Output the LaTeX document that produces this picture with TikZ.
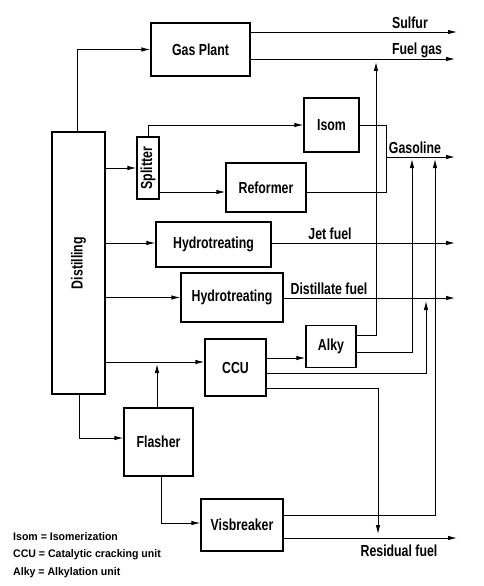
\documentclass[tikz,border=0pt]{standalone}
\usepackage{fontspec}
\setmainfont{Liberation Sans}
\newfontfamily\condf{Liberation Sans}[FakeStretch=0.77]
\newfontfamily\legf{Liberation Sans}[FakeStretch=0.96]
\usetikzlibrary{arrows.meta,calc}
\begin{document}
\begin{tikzpicture}[x=1pt,y=-1pt,
  box/.style={draw, line width=1.3pt, inner sep=0pt, font=\condf\bfseries\fontsize{16}{18}\selectfont},
  flow/.style={line width=0.9pt},
  arr/.style={flow, -{Latex[length=9pt,width=4.5pt]}},
  lab/.style={font=\condf\bfseries\fontsize{16}{18}\selectfont, inner sep=0pt},
  leg/.style={font=\legf\bfseries\fontsize{11}{13}\selectfont, inner sep=0pt, anchor=west}]
\fill[white] (0,0) rectangle (483,586);
\useasboundingbox (0,0) rectangle (483,586);

% boxes
\node[box, minimum width=99pt, minimum height=53pt] (gp) at (200.5,49.5) {Gas Plant};
\node[box, minimum width=53pt, minimum height=262pt] (dist) at (78.5,263) {\rotatebox{90}{Distilling}};
\node[box, minimum width=22pt, minimum height=62pt] (spl) at (148,168) {\rotatebox{90}{Splitter}};
\node[box, minimum width=55pt, minimum height=54pt] (isom) at (331.5,125) {Isom};
\node[box, minimum width=80pt, minimum height=49pt] (ref) at (266,187.5) {Reformer};
\node[box, minimum width=115pt, minimum height=45pt] (ht1) at (213.5,244.5) {Hydrotreating};
\node[box, minimum width=102pt, minimum height=49pt] (ht2) at (232,297.5) {Hydrotreating};
\node[box, minimum width=50pt, minimum height=42pt] (alky) at (331,346.5) {Alky};
\node[box, minimum width=61pt, minimum height=57pt] (ccu) at (235.5,367.5) {CCU};
\node[box, minimum width=69pt, minimum height=68pt] (fl) at (158.5,442) {Flasher};
\node[box, minimum width=82pt, minimum height=52pt] (vis) at (242,525) {Visbreaker};

% free ends and ports
\coordinate (sulE) at (457,32);
\coordinate (fgE) at (455,59);
\coordinate (gasS) at (386,157);
\coordinate (gasE) at (455,157);
\coordinate (jetE) at (455,243);
\coordinate (dfE) at (455,298);
\coordinate (resE) at (457,538);
\coordinate (fgUp) at (376,62);
\coordinate (gasUp1) at (412,159);
\coordinate (gasUp2) at (435,159);
\coordinate (dfUp) at (426,301);
\coordinate (resDown) at (378,534);
\coordinate (flUp) at (157,364);
\coordinate (refIn) at ([yshift=-4.5pt]ref.west);
\coordinate (refOut) at ([yshift=-4.5pt]ref.east);
\coordinate (ccuIn) at ([yshift=5.5pt]ccu.west);
\coordinate (ccuA) at ([yshift=9.5pt]ccu.east);
\coordinate (ccuB) at ([yshift=-5.5pt]ccu.east);
\coordinate (ccuC) at ([yshift=-20.5pt]ccu.east);
\coordinate (alkyA) at ([yshift=11.5pt]alky.east);
\coordinate (alkyB) at ([yshift=-5.5pt]alky.east);
\coordinate (visA) at ([yshift=10pt]vis.east);
\coordinate (visB) at ([yshift=-13pt]vis.east);
\coordinate (flIn) at ([yshift=4pt]fl.west);
\coordinate (visIn) at ([yshift=2pt]vis.west);

% connectors
\draw[arr] ([xshift=-1.5pt]dist.north) |- (gp.west);
\draw[arr] (gp.east |- sulE) -- (sulE);
\draw[arr] (gp.east |- fgE) -- (fgE);
\draw[arr] (dist.east |- spl) -- (spl.west);
\draw[arr] (spl.north) |- (isom.west);
\draw[arr] (spl.east |- refIn) -- (refIn);
\draw[flow] (isom.east) -| (gasS);
\draw[flow] (refOut) -| (gasS);
\draw[arr] (gasS) -- (gasE);
\draw[arr] (dist.east |- jetE) -- (ht1.west |- jetE);
\draw[arr] (ht1.east |- jetE) -- (jetE);
\draw[arr] (dist.east |- ht2) -- (ht2.west);
\draw[arr] (ht2.east |- dfE) -- (dfE);
\draw[arr] (dist.east |- ccuIn) -- (ccuIn);
\draw[arr] (ccuA) -- (alky.west |- ccuA);
\draw[arr] (ccuB) -| (dfUp);
\draw[arr] (ccuC) -| (resDown);
\draw[arr] (alkyA) -| (fgUp);
\draw[arr] (alkyB) -| (gasUp1);
\draw[arr] (visA) -| (gasUp2);
\draw[arr] (visB) -- (resE);
\draw[arr] ([xshift=0.5pt]dist.south) |- (flIn);
\draw[arr] ([xshift=2.5pt]fl.south) |- (visIn);
\draw[arr] ([xshift=-1.5pt]fl.north) -- (flUp);

% labels
\node[lab] (tSul) at (410,23) {Sulfur};
\node[lab] (tFg) at (417,50) {Fuel gas};
\node[lab] (tGas) at (415,148) {Gasoline};
\node[lab] (tJet) at (330,234) {Jet fuel};
\node[lab] (tDf) at (329,289) {Distillate fuel};
\node[lab] (tRes) at (399,551) {Residual fuel};

% legend
\node[leg] (l1) at (13,537) {Isom = Isomerization};
\node[leg] (l2) at (13,555) {CCU = Catalytic cracking unit};
\node[leg] (l3) at (13,573) {Alky = Alkylation unit};
\end{tikzpicture}
\end{document}
